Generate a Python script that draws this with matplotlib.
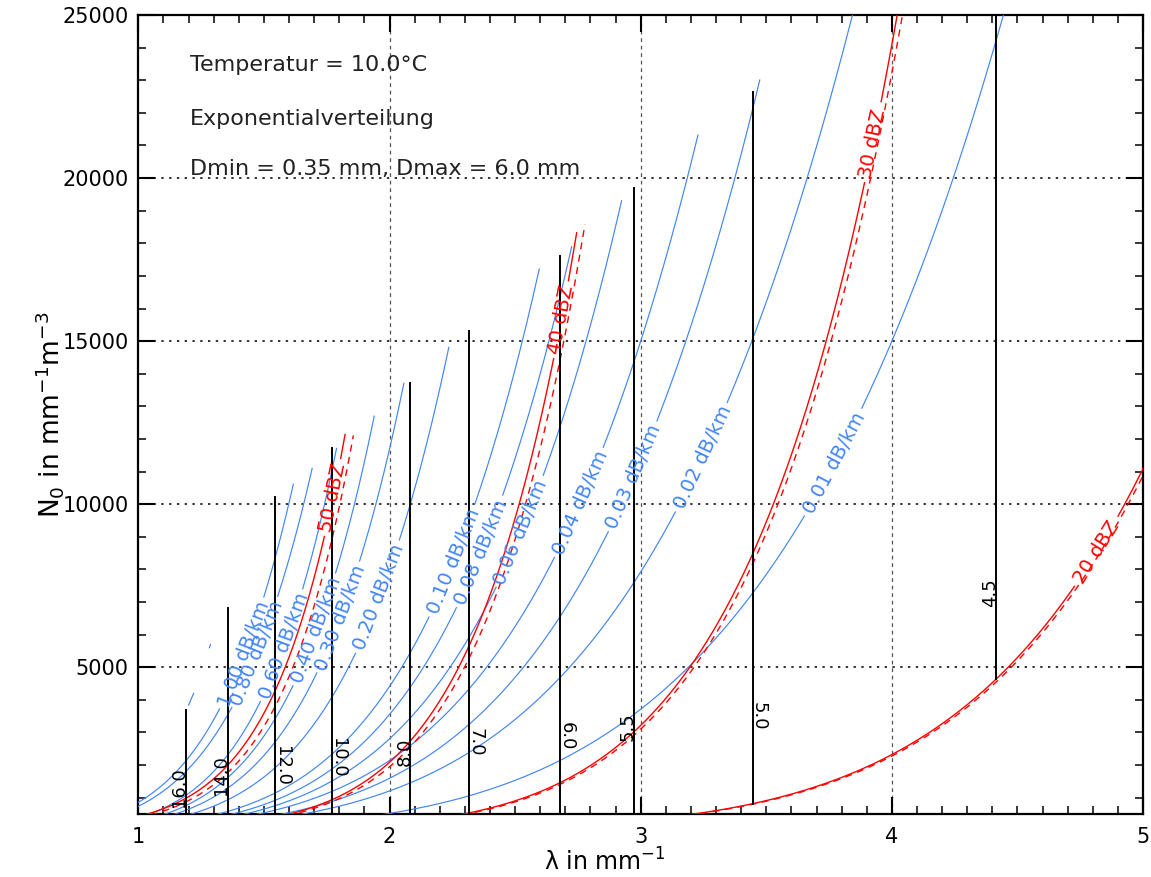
import numpy as np
import matplotlib.pyplot as plt
from matplotlib.ticker import MultipleLocator

plt.rcParams['font.family'] = ['DejaVu Sans']
plt.rcParams['mathtext.default'] = 'regular'

BLUE = '#4285f4'
RED = '#ff0000'

# Durchmesserbereich der Verteilung (mm)
d_min, d_max = 0.35, 6.0

# Reflektivitaet: Isolinien in dBZ (durchgezogen / gestrichelt)
dbz_levels = [20, 30, 40, 50]
dbz_fac_solid = [1.02, 1.058, 1.12, 1.20]
dbz_fac_dashed = [1.00, 1.02, 1.045, 1.065]
dbz_end_solid = [5.2, 4.3, 2.745, 1.823]
dbz_end_dashed = [5.2, 4.3, 2.778, 1.856]
dbz_label_pos = [(4.799, 8592), (3.902, 21044), (2.690, 15646), (1.759, 10217)]

# spezifische Daempfung: je Kurve ein Punkt (Beschriftung) und der Endpunkt
att_levels = ['1.00', '0.80', '0.60', '0.40', '0.30', '0.20', '0.10',
              '0.08', '0.06', '0.04', '0.03', '0.02', '0.01']
att_lam1 = [1.421, 1.473, 1.580, 1.710, 1.804, 1.959, 2.254,
            2.364, 2.523, 2.759, 2.973, 3.248, 4.000]
att_n1 = [5402, 5433, 5660, 6154, 6522, 7135, 8233,
          8515, 9129, 10034, 10840, 11454, 15000]
att_lam2 = [1.617, 1.692, 1.789, 1.939, 2.057, 2.236, 2.596,
            2.725, 2.924, 3.228, 3.474, 3.843, 4.444]
att_n2 = [10616, 11098, 11711, 12700, 13705, 14808, 17210,
          17894, 19305, 21320, 23007, 25000, 25000]
att_label_pos = [(1.421, 5402), (1.473, 5433), (1.580, 5660), (1.710, 6154),
                 (1.804, 6522), (1.959, 7135), (2.254, 8233), (2.364, 8515),
                 (2.523, 9129), (2.759, 10034), (2.973, 10840), (3.248, 11454),
                 (3.745, 11350)]
att_frag_lam = [[1.200, 1.220], [1.283, 1.287]]
att_frag_n0 = [[3840, 4200], [5600, 5700]]

# senkrechte Isolinien
dsd_labels = ['16.0', '14.0', '12.0', '10.0', '8.0', '7.0', '6.0', '5.5', '5.0', '4.5']
dsd_lam = [1.190, 1.358, 1.544, 1.770, 2.081, 2.316, 2.678, 2.973, 3.447, 4.416]
dsd_top = [3684, 6803, 10208, 11711, 13705, 15309, 17610, 19703, 22629, 25000]
dsd_text_lam = [1.162, 1.331, 1.570, 1.795, 2.059, 2.342, 2.704, 2.949, 3.470, 4.391]
dsd_text_n0 = [1323, 1691, 1967, 2212, 2396, 2703, 2887, 3172, 3501, 7288]
dsd_text_rot = [90, 90, -90, -90, 90, -90, -90, 90, -90, 90]

fig = plt.figure(figsize=(11.51, 8.77), dpi=100)
ax = fig.add_axes([0.1202, 0.0718, 0.8729, 0.9111])
ax.set_xlim(1, 5)
ax.set_ylim(500, 25000)
renderer = fig.canvas.get_renderer()

d_grid = np.linspace(d_min, d_max, 3000)


def n0_of_z(lam, dbz, fac):
    # Z = N0 * Integral D^6 exp(-lambda D) dD zwischen Dmin und Dmax
    lam = np.atleast_1d(np.asarray(lam, dtype=float))
    m6 = np.trapezoid(d_grid ** 6 * np.exp(-lam[:, None] * d_grid), d_grid, axis=1)
    return 10 ** (dbz / 10.0) / m6 * fac


def labeled_line(lam, n0, text, pos, color, size, **kw):
    pts = ax.transData.transform(np.column_stack([lam, n0]))
    target = ax.transData.transform(pos)
    i = int(np.argmin(np.hypot(*(pts - target).T)))
    arc = np.concatenate([[0], np.cumsum(np.hypot(*np.diff(pts, axis=0).T))])
    t = ax.text(lam[i], n0[i], text, color=color, fontsize=size,
                ha='center', va='center', rotation_mode='anchor', zorder=5)
    w = t.get_window_extent(renderer).width
    j0, j1 = max(i - 2, 0), min(i + 2, len(pts) - 1)
    dx, dy = pts[j1] - pts[j0]
    ang = np.degrees(np.arctan2(dy, dx))
    if ang > 90:
        ang -= 180
    elif ang < -90:
        ang += 180
    t.set_rotation(ang)
    y = np.where(np.abs(arc - arc[i]) < w / 2 + 4, np.nan, n0)
    ax.plot(lam, y, color=color, **kw)


# Gitter
for yv in [5000, 10000, 15000, 20000]:
    ax.axhline(yv, color='#333333', lw=1.4, ls=(0, (1.2, 2.8)), zorder=1)
for xv in [2, 3, 4]:
    ax.axvline(xv, color='#555555', lw=0.9, ls=(0, (3, 3)), zorder=1)

# Daempfungskurven
for k, lev in enumerate(att_levels):
    p = np.log(att_n2[k] / att_n1[k]) / np.log(att_lam2[k] / att_lam1[k])
    lam_start = att_lam1[k] * (450.0 / att_n1[k]) ** (1.0 / p)
    lam = np.linspace(lam_start, att_lam2[k], 800)
    n0 = att_n1[k] * (lam / att_lam1[k]) ** p
    labeled_line(lam, n0, lev + ' dB/km', att_label_pos[k], BLUE, 14,
                 lw=0.85, zorder=3)
for fl, fn in zip(att_frag_lam, att_frag_n0):
    ax.plot(fl, fn, color=BLUE, lw=0.85, zorder=3)

# Reflektivitaetskurven
for k, dbz in enumerate(dbz_levels):
    lam = np.linspace(1.0, dbz_end_dashed[k], 800)
    ax.plot(lam, n0_of_z(lam, dbz, dbz_fac_dashed[k]), color=RED, lw=1.0,
            ls=(0, (5, 4)), zorder=4)
    lam = np.linspace(1.0, dbz_end_solid[k], 800)
    labeled_line(lam, n0_of_z(lam, dbz, dbz_fac_solid[k]), '%d dBZ' % dbz,
                 dbz_label_pos[k], RED, 14, lw=1.0, zorder=4)

# senkrechte Linien, unten begrenzt durch die 20-dBZ-Kurve
for k, lab in enumerate(dsd_labels):
    bottom = max(500.0, n0_of_z(dsd_lam[k], 20, dbz_fac_solid[0])[0])
    ax.plot([dsd_lam[k], dsd_lam[k]], [bottom, dsd_top[k]], color='black',
            lw=1.4, zorder=4)
    ax.text(dsd_text_lam[k], dsd_text_n0[k], lab, rotation=dsd_text_rot[k],
            ha='center', va='center', fontsize=13, color='black', zorder=5)

# Beschriftung
ax.text(1.206, 23282, 'Temperatur = 10.0°C', fontsize=16, color='#222222')
ax.text(1.206, 21626, 'Exponentialverteilung', fontsize=16, color='#222222')
ax.text(1.206, 20093, 'Dmin = 0.35 mm, Dmax = 6.0 mm', fontsize=16, color='#222222')

ax.xaxis.set_major_locator(MultipleLocator(1))
ax.xaxis.set_minor_locator(MultipleLocator(0.1))
ax.yaxis.set_major_locator(MultipleLocator(5000))
ax.yaxis.set_minor_locator(MultipleLocator(1000))
ax.tick_params(which='both', direction='in', top=True, right=True, labelsize=15)
ax.tick_params(which='major', length=12, width=1.5)
ax.tick_params(which='minor', length=5.5, width=1.1)
ax.tick_params(axis='x', pad=9)
ax.tick_params(axis='y', pad=7)
for sp in ax.spines.values():
    sp.set_linewidth(1.6)

fig.text(605 / 1151, 1 - 871 / 877, r'λ in mm$^{-1}$', fontsize=17,
         ha='center', va='baseline')
fig.text(50 / 1151, 1 - 415 / 877, r'N$_0$ in mm$^{-1}$m$^{-3}$', fontsize=19,
         ha='center', va='center', rotation=90)

fig.savefig('out.png', dpi=100)
